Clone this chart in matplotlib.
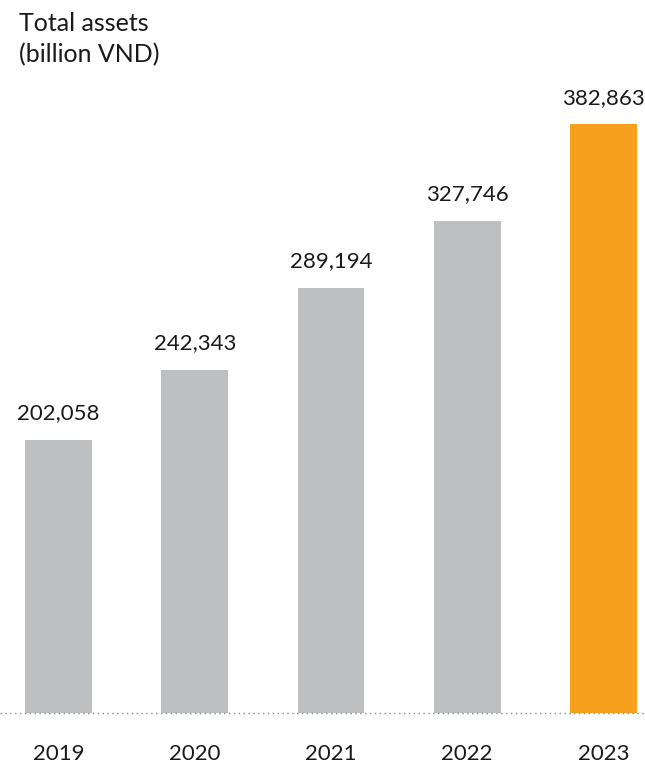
import matplotlib.pyplot as plt

years = ["2019", "2020", "2021", "2022", "2023"]
total_assets = [202058, 242343, 289194, 327746, 382863]
bar_colors = ["#BEBFC1", "#BEBFC1", "#BEBFC1", "#BEBFC1", "#F7A01E"]

plt.rcParams['font.family'] = ['Lato', 'DejaVu Sans']

fig = plt.figure(figsize=(6.45, 7.63), dpi=100)
# axes spans the full width; bottom sits on the dotted baseline
ax = fig.add_axes([0, 1 - 713 / 763, 1, (713 - 124.3) / 763])

x = range(len(years))
bars = ax.bar(x, total_assets, width=0.49, color=bar_colors, zorder=2)

ax.set_xlim(-0.429, 4.305)
ax.set_ylim(45700, 382863)

# value labels above each bar
for rect, val in zip(bars, total_assets):
    ax.annotate(f"{val:,}", (rect.get_x() + rect.get_width() / 2, val),
                xytext=(0, 12), textcoords="offset points",
                ha="center", va="bottom", fontsize=16, color="#1a1a1a",
                annotation_clip=False)

# year labels under the baseline
for i, yr in enumerate(years):
    ax.annotate(yr, (i, 45700), xytext=(0, -22), textcoords="offset points",
                ha="center", va="top", fontsize=16, color="#1a1a1a",
                annotation_clip=False)

# dotted baseline
ax.axhline(45700, color="#8a8a8a", lw=1.0, ls=(0, (1, 2.5)), zorder=3, clip_on=False)

for s in ax.spines.values():
    s.set_visible(False)
ax.set_xticks([])
ax.set_yticks([])

fig.text(19 / 645, 1 - 12 / 763, "Total assets\n(billion VND)", ha="left", va="top",
         fontsize=18, color="#1a1a1a", linespacing=1.4)

fig.savefig("out.png", dpi=100)
